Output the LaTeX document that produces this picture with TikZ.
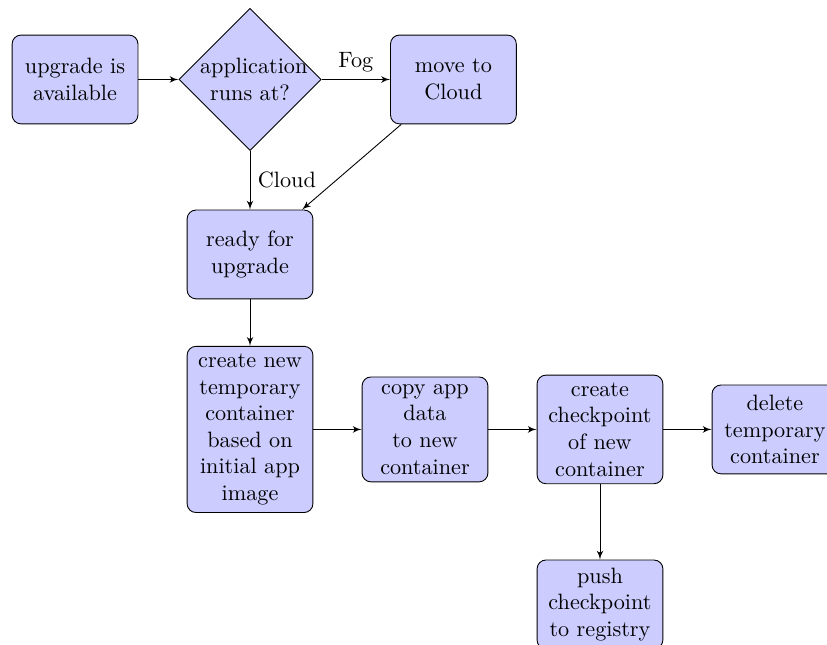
\documentclass[tikz,border=0pt]{standalone}
\usepackage{xcolor}
\usepackage{tikz}
\usetikzlibrary{shapes.geometric,arrows,positioning}
\tikzstyle{decision} = [diamond, draw, fill=blue!20, text width=4.5em, text badly centered, inner sep=0pt]
\tikzstyle{block} = [rectangle, draw, fill=blue!20, text width=5em, text centered, rounded corners, minimum height=4em]
\tikzstyle{line} = [draw, -latex']

\begin{document}
\begin{tikzpicture}[node distance = 2.77cm]
	\useasboundingbox (-33.8pt,35.8pt) rectangle (338.7pt,-254.7pt);

	\node (upgrade) [block] {upgrade is available};
	\node (decide) [decision, right of=upgrade] {application runs at?};
	\node (move) [block, node distance=3.22cm, right of=decide] {move to Cloud};
	\node (ready) [block, below of=decide] {ready for upgrade};
	\node (create) [block, below of=ready] {create new temporary container based on initial app image};
	\node (copy) [block, right of=create] {copy app\\ data\\ to new container};
	\node (checkpoint) [block, right of=copy] {create checkpoint of new container};
	\node (delete) [block, right of=checkpoint] {delete temporary container};
	\node (push) [block, below of=checkpoint] {push checkpoint to registry};

	\path [line] (upgrade) -- (decide);
	\path [line] (decide) -- node [above] {Fog} (move);
	\path [line] (decide) -- node [right] {Cloud} (ready);
	\path [line] (move) -- (ready);
	\path [line] (ready) -- (create);
	\path [line] (create) -- (copy);
	\path [line] (copy) -- (checkpoint);
	\path [line] (checkpoint) -- (delete);
	\path [line] (checkpoint) -- (push);

\end{tikzpicture}
\end{document}
